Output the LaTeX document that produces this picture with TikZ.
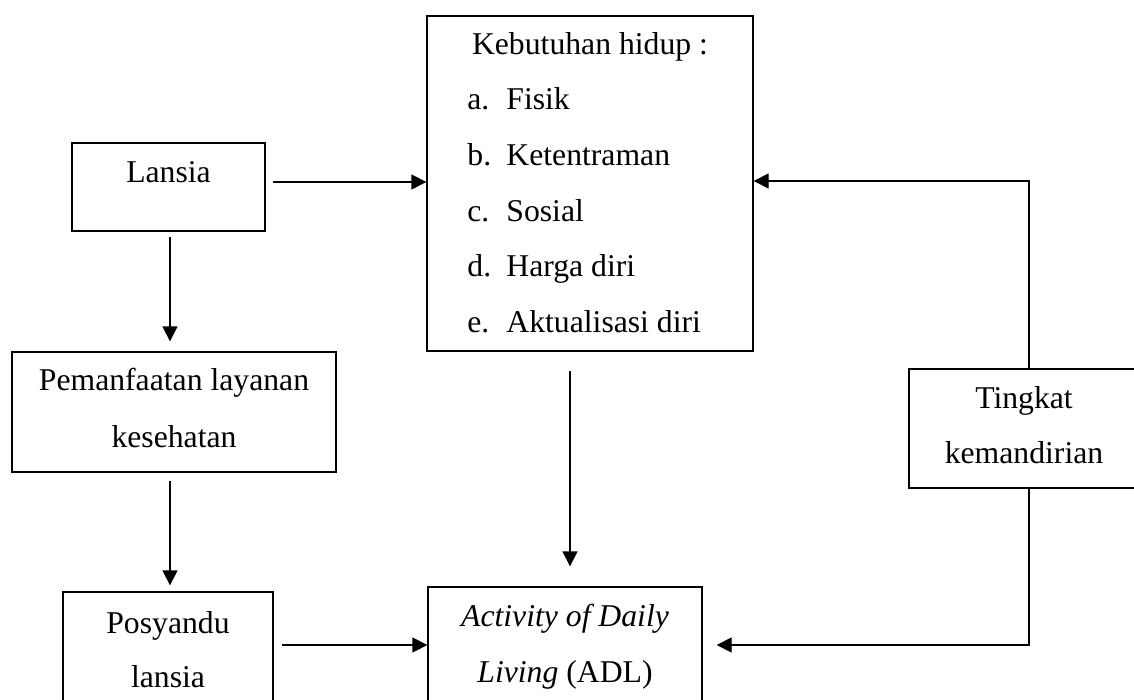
\documentclass[tikz,border=0pt]{standalone}
\usepackage{fontspec}
\setmainfont{Liberation Serif}
\usetikzlibrary{arrows.meta,calc}
\begin{document}
\begin{tikzpicture}[x=0.5pt,y=-0.5pt,
  box/.style={draw,line width=0.65pt,inner sep=0pt,minimum width=#1},
  txt/.style={anchor=base,inner sep=0pt,font=\fontsize{15.85}{27.75}\selectfont},
  txtw/.style={anchor=base west,inner sep=0pt,font=\fontsize{15.85}{27.75}\selectfont},
  arr/.style={line width=0.65pt,-{Triangle[length=7.5pt,width=7.5pt]}},
  ln/.style={line width=0.65pt}]
\useasboundingbox (0,0) rectangle (1134,700);
% boxes
\node[box=96.5pt,minimum height=44pt] (lansia) at (168.5,187) {};
\node[box=163pt,minimum height=167.5pt] (kebut) at (590,183.5) {};
\node[box=162pt,minimum height=60pt] (pem) at (174,412) {};
\node[box=105pt,minimum height=60pt] (posy) at (168,652) {};
\node[box=137pt,minimum height=60pt] (adl) at (565,647) {};
\node[box=115pt,minimum height=59.5pt] (ting) at (1024,428.5) {};
% texts
\node[txt] (tl) at (168.5,183) {Lansia};
\node[txt] (tk0) at (590,55) {Kebutuhan hidup :};
\node[txtw] (la) at (467,110) {a.};
\node[txtw] (ta) at (506,110) {Fisik};
\node[txtw] (lb) at (467,166) {b.};
\node[txtw] (tb) at (506,166) {Ketentraman};
\node[txtw] (lc) at (467,221) {c.};
\node[txtw] (tc) at (506,221) {Sosial};
\node[txtw] (ld) at (467,277) {d.};
\node[txtw] (td) at (506,277) {Harga diri};
\node[txtw] (le) at (467,332) {e.};
\node[txtw] (te) at (506,332) {Aktualisasi diri};
\node[txt] (tp1) at (174,390) {Pemanfaatan layanan};
\node[txt] (tp2) at (174,447) {kesehatan};
\node[txt] (ty1) at (168,633) {Posyandu};
\node[txt] (ty2) at (168,687) {lansia};
\node[txt] (ta1) at (565,626) {\itshape Activity of Daily};
\node[txt] (ta2) at (565,682) {\itshape Living\upshape\ (ADL)};
\node[txt] (tt1) at (1024,408) {Tingkat};
\node[txt] (tt2) at (1024,463) {kemandirian};
% connectors
\draw[arr] ($(lansia.east)+(7,-5)$) -- ($(kebut.west)+(0,-1.5)$);
\draw[arr] ($(lansia.south)+(1.5,5)$) -- ($(pem.north)+(-4,-10)$);
\draw[arr] ($(pem.south)+(-4,8)$) -- ($(posy.north)+(2,-6)$);
\draw[arr] ($(kebut.south)+(-20,19)$) -- ($(adl.north)+(5,-20)$);
\draw[arr] ($(posy.east)+(8,-7)$) -- ($(adl.west)+(0,-2)$);
\draw[arr] ($(ting.north)+(5,0)$) |- ($(kebut.east)+(0,-2.5)$);
\draw[arr] ($(ting.south)+(5,0)$) |- ($(adl.east)+(14,-2)$);
\end{tikzpicture}
\end{document}
